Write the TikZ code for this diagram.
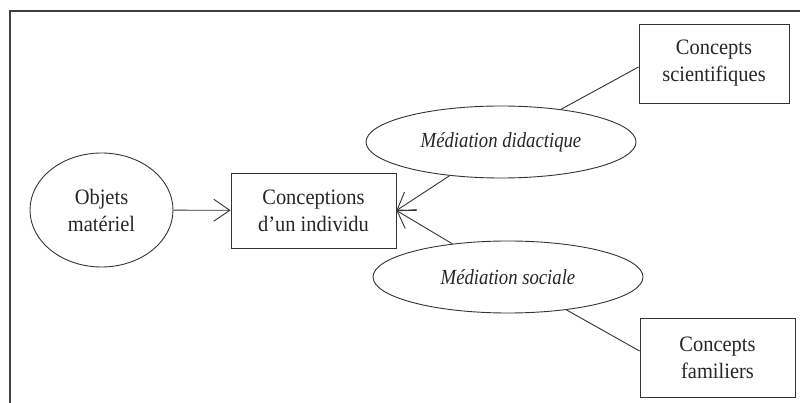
\documentclass[tikz,border=0pt]{standalone}
\usepackage{fontspec}
\setmainfont{Liberation Serif}
% narrow cuts of the serif face for the labels
\newfontfamily\labelface[FakeStretch=0.93]{Liberation Serif}
\newfontfamily\slantface[FakeStretch=0.87]{Liberation Serif}
\usetikzlibrary{shapes.geometric,arrows.meta}
\begin{document}
\begin{tikzpicture}[x=1pt,y=-1pt,
  ink/.style={draw=black!80, line width=0.9pt},
  label/.style={text=black!85, font=\labelface\fontsize{22}{27}\selectfont, align=center},
  bubble/.style={ellipse, ink, label, inner sep=0pt},
  box/.style={rectangle, ink, label, inner sep=0pt},
  slant/.style={font=\slantface\itshape\fontsize{21.5}{26}\selectfont},
  link/.style={ink},
  feed/.style={ink, -{Straight Barb[length=16pt,width=22pt,line width=0.9pt]}}
]
\useasboundingbox (0,0) rectangle (800,403);
% open frame: only the left and top rules
\draw[draw=black!75, line width=1.2pt] (10,403) -- (10,11) -- (800,11);

\node[bubble, minimum width=143pt, minimum height=114pt] (mo) at (101.5,210) {Objets\\matériel};
\node[box, minimum width=165pt, minimum height=75pt] (ci) at (313.5,210.5) {Conceptions\\d’un individu};
\node[bubble, slant, minimum width=270pt, minimum height=72pt] (md) at (501,142) {Médiation didactique};
\node[bubble, slant, minimum width=270pt, minimum height=72pt] (ms) at (508,277) {Médiation sociale};
\node[box, minimum width=150pt, minimum height=79pt] (cs) at (714,63.5) {Concepts\\scientifiques};
\node[box, minimum width=155pt, minimum height=79pt] (cf) at (717.5,357.5) {Concepts\\familiers};

\draw[feed] (mo) -- (ci);
\draw[feed] (md) -- (ci.east);
\draw[feed] (ms) -- (ci.east);
\draw[link] (md) -- ([yshift=-3.5pt]cs.west);
\draw[link] (ms) -- ([yshift=6.5pt]cf.west);
\end{tikzpicture}
\end{document}
